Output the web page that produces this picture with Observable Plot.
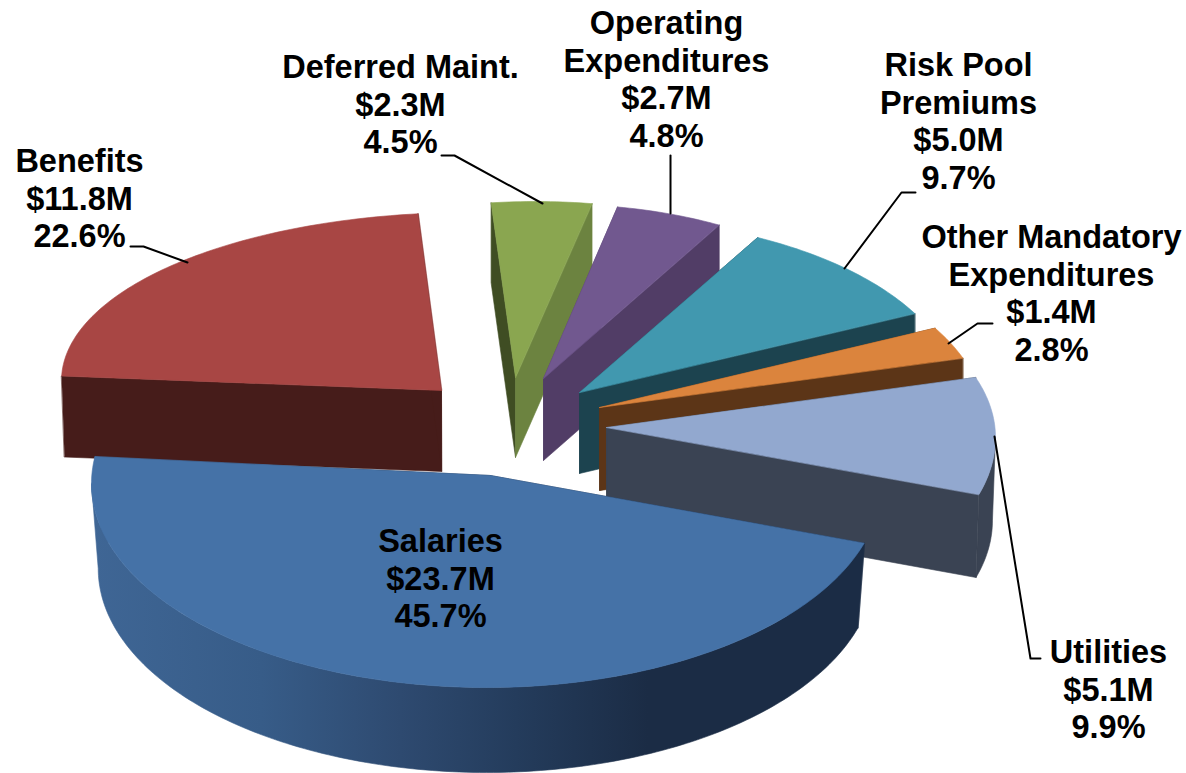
<!DOCTYPE html>
<html>
<head>
<meta charset="utf-8">
<script src="https://cdn.jsdelivr.net/npm/d3@7"></script>
<script src="https://cdn.jsdelivr.net/npm/@observablehq/plot@0.6"></script>
<style>
html,body{margin:0;padding:0;background:#fff}
svg{display:block}
</style>
</head>
<body>
<div id="chart"></div>
<script>
// Data (clockwise from the front-right corner of the pie)
const names = ["Salaries","Benefits","Deferred Maint.","Operating\nExpenditures","Risk Pool\nPremiums","Other Mandatory\nExpenditures","Utilities"];
const millions = ["23.7","11.8","2.3","2.7","5.0","1.4","5.1"];
const percents = [45.7,22.6,4.5,4.8,9.7,2.8,9.9];

// Colours
const topColors = ["#4572a7","#a84644","#8aa650","#71588f","#4198af","#db843d","#92a8cf"];
const sideColors = ["url(#wall)","#461c1a","#6c8340","#513d66","#1c434f","#5c3517","#3a4353"];
const farSideColors = ["#1b2c45","#461c1a","#3f4d23","#513d66","#1c434f","#5c3517","#3a4353"];

// Projection of each exploded slice of the tilted pie
const startAngle = 17;
const centreX = [486,468,535,561,596,589,615];
const centreY = [483,380,376,402,401,417,437];
const radiusX = [395,407,358,355,363,394,380];
const radiusYBack = [204,168,175,198,183,186,188];
const radiusYFront = [204,168,175,198,183,186,195];
const apexX = [490,441,515,543,579,599,606];
const apexY = [475,390,377,378,392,407,427];
const depth = [85,81,80,82,81,83,83];
const shrink = [.983,.993,1,1,1,1,.992];
const arcExtra = [6,0,0,0,0,0,0];
const drawOrder = [2,3,4,5,6,1,0];

// Label placement
const labelX = [440,79,400,666,958,1051,1108];
const labelY = [577,197,103,78,120,292,688];
const leaderX = [[],[130,143,187],[441,454,542],[670,670],[915,901,844],[992,977,948],[1040,1030,994]];
const leaderY = [[],[246,246,262],[155,155,203],[155,213],[192,192,268],[323,323,343],[658,658,436]];

const rad = Math.PI/180;
const spans = percents.map(p => p*3.6);
const starts = d3.cumsum([startAngle, ...spans.slice(0,-1)]);

function arcPts(i,a,b){
  const n = Math.max(2,Math.ceil(Math.abs(b-a)));
  return d3.range(n+1).map(k=>{
    const t=(a+(b-a)*k/n)*rad, s=Math.sin(t);
    return [centreX[i]+radiusX[i]*Math.cos(t), centreY[i]+(s>0?radiusYFront[i]:radiusYBack[i])*s];
  });
}
const lower = (i,p)=>[centreX[i]+(p[0]-centreX[i])*shrink[i], p[1]+depth[i]];
const poly = (pts,fill)=>Plot.line(pts.map(p=>({x:p[0],y:p[1]})),{x:"x",y:"y",fill,stroke:fill,strokeWidth:.6,curve:"linear-closed"});

const marks = [];
for(const i of drawOrder){
  const a0=starts[i], a1=a0+spans[i];
  const arc=arcPts(i,a0,a1+arcExtra[i]);
  const apex=[apexX[i],apexY[i]];
  const first=arc[0], last=arc[arc.length-1];
  // far radial wall
  marks.push(poly([first,apex,lower(i,apex),lower(i,first)],farSideColors[i]));
  // outer wall where the rim faces the viewer
  const ranges=[[Math.max(a0,0),Math.min(a1,180)],[Math.max(a0,360),Math.min(a1,540)]];
  for(const [u,v] of ranges){ if(v>u){
    const rim=arcPts(i,u,v);
    marks.push(poly([...rim,...rim.slice().reverse().map(p=>lower(i,p))],sideColors[i]));
  }}
  // near radial wall
  marks.push(poly([last,apex,lower(i,apex),lower(i,last)],sideColors[i]));
  // top face
  marks.push(poly([apex,...arc],topColors[i]));
}
// Leaders
leaderX.forEach((xs,i)=>{ if(xs.length) marks.push(Plot.line(xs.map((x,k)=>({x,y:leaderY[i][k]})),{x:"x",y:"y",stroke:"#000",strokeWidth:2})); });
// Labels
const labels = names.map((n,i)=>({x:labelX[i],y:labelY[i],text:`${n}\n$${millions[i]}M\n${percents[i].toFixed(1)}%`}));
marks.push(Plot.text(labels,{x:"x",y:"y",text:"text",fill:"#000",fontFamily:"'Liberation Sans',Arial,sans-serif",fontWeight:"bold",fontSize:32.5,lineHeight:1.157,lineAnchor:"middle",textAnchor:"middle"}));
// Gradient for the Salaries rim
marks.unshift(()=>{
  const svg=d3.create("svg:defs");
  const g=svg.append("linearGradient").attr("id","wall").attr("x1",0).attr("x2",1).attr("y1",0).attr("y2",0);
  [[0,"#3f6695"],[.22,"#375c88"],[.4,"#2e4a70"],[.55,"#243c5c"],[.72,"#1b2c45"],[1,"#1b2c45"]].forEach(([o,c])=>g.append("stop").attr("offset",o).attr("stop-color",c));
  return svg.node();
});

const plot = Plot.plot({
  width:1186,height:773,margin:0,
  x:{domain:[0,1186],range:[0,1186],axis:null},
  y:{domain:[0,773],range:[0,773],axis:null},
  style:{background:"#fff",overflow:"hidden"},
  marks
});
document.getElementById("chart").append(plot);
</script>
</body>
</html>
